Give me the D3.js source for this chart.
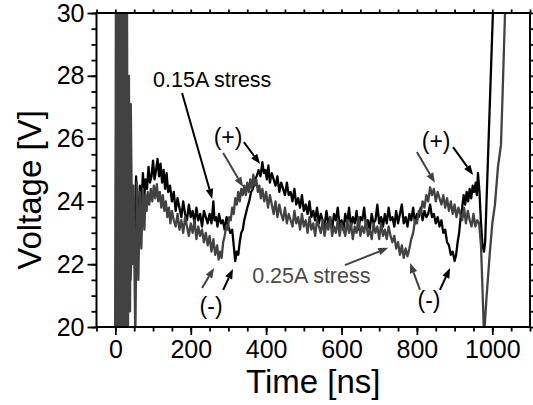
<!DOCTYPE html>
<html><head><meta charset="utf-8">
<script src="https://cdn.jsdelivr.net/npm/d3@7"></script>
<style>
html,body{margin:0;padding:0;background:#fff;}
svg text{font-family:"Liberation Sans",Arial,sans-serif;}
</style></head>
<body>
<svg id="chart" width="533" height="405"></svg>
<script>
// ---- data ----
const xMajorTicks = [0, 200, 400, 600, 800, 1000];
const yMajorTicks = [20, 22, 24, 26, 28, 30];
const xTitle = "Time [ns]";
const yTitle = "Voltage [V]";

// 0.15A stress trace (black) : [time ns, voltage V]
const stress015 = [
[0,19.5],[2,26],[4,31],[7,31],[9,19],[11,31],[13,19],[15,31],[18,31],[21,19],[24,31],[26,19.5],[29,29],[32,20.5],[35,26],[40,21.5],[45,24.5],[50,22.5],[55,24.8],[60,23.2],[65,24.5],[69,23.8],[73,24.9],
[77,24.2],[80,24.7],[84,24.4],[88,25.1],[92,24.6],[96,24.8],[100,25.3],[104,24.7],[108,25.0],[112,25.35],[116,24.8],[120,25.2],[124,24.6],[128,25.0],[132,24.4],[136,24.9],[140,24.3],[145,24.5],[150,24.0],[155,24.3],[160,23.7],[165,24.1],[170,23.8],[175,23.5],[180,24.0],[185,23.6],[190,23.4],[195,23.9],[200,23.5],[205,23.7],[210,23.3],[215,23.8],[220,23.4],[225,23.6],[230,23.2],[235,23.7],[240,23.5],[245,23.3],[250,23.6],[255,23.3],[260,24.0],[263,23.4],[267,23.5],[271,23.2],[275,23.6],[280,23.3],[285,23.4],[290,23.1],[295,23.5],[300,23.2],[305,23.0],[310,23.1],[314,22.6],[318,22.1],[322,22.4],[326,22.3],[330,22.7],[334,23.0],[338,23.1],[342,23.4],[346,23.6],[350,23.8],[355,24.0],[360,24.3],[365,24.4],[370,24.7],[375,24.8],[380,25.0],[385,24.8],[390,25.25],[394,24.9],[398,25.0],[402,24.7],[406,25.15],[410,24.6],[415,24.9],[420,24.7],[425,24.5],[430,24.8],[435,24.3],[440,24.6],[445,24.4],[450,24.2],[455,24.6],[460,24.2],[465,24.3],[470,24.0],[475,24.4],[480,23.9],[485,24.1],[490,23.8],[495,24.2],[500,23.7],[505,23.9],[510,23.6],[515,24.0],[520,23.5],[525,23.7],[530,23.4],[535,23.8],[540,23.3],[545,23.6],[550,23.4],[555,23.2],[560,23.7],[565,23.3],[570,23.5],[575,23.1],[580,23.6],[585,23.4],[590,23.8],[595,23.2],[600,23.4],[605,23.1],[610,23.6],[615,23.3],[620,23.8],[625,23.2],[630,23.5],[635,23.3],[640,23.7],[645,23.1],[650,23.5],[655,23.4],[660,23.8],[665,23.2],[670,23.4],[675,23.1],[680,23.6],[685,23.3],[690,23.4],[695,23.9],[700,23.3],[705,23.5],[710,23.2],[715,23.6],[720,23.3],[725,23.8],[730,23.4],[735,23.5],[740,23.2],[745,23.7],[750,23.3],[755,23.6],[760,23.9],[765,23.3],[770,23.5],[775,23.2],[780,23.6],[785,23.4],[790,23.8],[795,23.3],[800,23.6],[805,23.5],[810,23.8],[815,23.4],[820,23.7],[825,23.5],[830,23.6],[835,23.9],[840,23.5],[845,23.6],[850,23.3],[855,23.5],[860,23.2],[865,23.4],[870,23.0],[875,23.1],[880,22.7],[885,22.6],[890,22.3],[895,22.4],[900,22.1],[904,22.3],[908,22.7],[912,23.0],[916,23.5],[920,23.8],[924,24.2],[928,23.9],[932,24.3],[936,24.0],[940,24.4],[944,24.1],[948,24.5],[952,24.3],[956,24.6],[959,24.2],[962,24.9],[966,24.3],[970,23.3],[974,22.6],[978,22.4],[981,22.7],[1003,30.5]
];

// 0.25A stress trace (gray) : [time ns, voltage V]
const stress025 = [
[0,19.5],[1.5,31],[3.5,19],[5.5,31],[7.5,19],[9.5,31],[11.5,19],[13.5,31],[15.5,19],[17.5,31],[19.5,19],[21.5,31],[23.5,19],[26,31],[28.5,19],[31,30],[33.5,19.5],[36,28],[39,20.5],[41,27.1],[45,22],[48,24.5],[53,19.6],[57,24.6],[61,21.5],[65,24.3],[69,22.5],[73,24.4],[77,23.1],[80,24.2],
[83,23.7],[86,24.3],[90,23.9],[94,24.4],[98,24.0],[102,24.5],[106,24.1],[110,24.55],[114,24.0],[118,24.3],[122,23.8],[126,24.2],[130,23.7],[134,24.0],[138,23.5],[142,23.8],[146,23.3],[150,23.7],[155,23.4],[160,23.2],[165,23.6],[170,23.1],[175,23.4],[180,23.0],[185,23.5],[190,23.2],[195,22.9],[200,23.3],[205,23.0],[210,23.4],[215,22.8],[220,23.2],[225,22.9],[230,23.1],[235,22.7],[240,23.0],[245,22.6],[250,22.9],[255,22.4],[260,22.8],[265,22.3],[270,22.6],[274,22.15],[278,22.4],[282,22.2],[286,22.7],[290,22.9],[294,23.2],[298,23.1],[302,23.5],[306,23.4],[310,23.8],[314,23.6],[318,24.1],[322,23.9],[326,24.3],[330,24.0],[334,24.4],[338,24.2],[342,24.5],[346,24.2],[350,24.6],[354,24.3],[358,24.7],[362,24.4],[366,24.85],[370,24.5],[374,24.7],[378,24.3],[382,24.5],[386,24.1],[390,24.4],[395,24.0],[400,24.3],[405,23.8],[410,24.2],[415,23.9],[420,23.6],[425,24.0],[430,23.5],[435,23.9],[440,23.6],[445,23.4],[450,23.8],[455,23.3],[460,23.6],[465,23.4],[470,23.2],[475,23.7],[480,23.3],[485,23.5],[490,23.1],[495,23.6],[500,23.2],[505,23.4],[510,23.0],[515,23.5],[520,23.1],[525,23.3],[530,22.9],[535,23.4],[540,23.2],[545,23.0],[550,23.4],[555,22.9],[560,23.3],[565,23.1],[570,23.5],[575,22.9],[580,23.2],[585,23.0],[590,23.4],[595,22.9],[600,23.3],[605,23.1],[610,22.9],[615,23.4],[620,23.0],[625,23.3],[630,22.8],[635,23.2],[640,23.0],[645,23.5],[650,22.9],[655,23.2],[660,23.0],[665,23.4],[670,22.9],[675,23.1],[680,22.8],[685,23.3],[690,23.0],[695,23.2],[700,22.8],[705,23.3],[710,22.9],[715,23.1],[720,22.8],[725,23.2],[730,22.9],[735,22.7],[740,22.9],[745,22.5],[750,22.7],[755,22.3],[760,22.6],[765,22.2],[770,22.5],[775,22.25],[780,22.5],[785,22.8],[790,23.0],[795,23.4],[800,23.3],[805,23.7],[810,23.6],[815,24.0],[820,23.8],[825,24.2],[830,24.0],[835,24.45],[840,24.2],[845,24.4],[850,24.0],[855,24.3],[860,24.1],[865,23.9],[870,24.2],[875,23.8],[880,24.1],[885,23.7],[890,24.0],[895,23.6],[900,23.9],[905,23.5],[910,23.8],[915,23.6],[920,23.4],[925,23.8],[930,23.3],[935,23.7],[940,23.4],[945,23.2],[950,23.6],[955,23.2],[960,23.4],[965,23.3],[970,22.6],[974,21.2],[978,19.7],[985,21.0],[993,22.3],[1000,23.3],[1007,23.9],[1015,25.1],[1023,25.8],[1027,27.3],[1035,30.5]
];

// annotation labels [text, time, voltage, anchor, colour key]
const labels = [
  ["0.15A stress", 100, 27.64, "start", "k"],
  ["(+)", 299, 25.80, "middle", "k"],
  ["(-)", 254, 20.41, "middle", "k"],
  ["0.25A stress", 363, 21.40, "start", "g"],
  ["(+)", 851, 25.67, "middle", "k"],
  ["(-)", 832, 20.60, "middle", "k"]
];
// annotation arrows [t0, v0, t1, v1, colour key]
const arrows = [
  [177, 27.45, 257, 24.08, "k"],
  [341, 25.89, 384, 25.19, "k"],
  [286, 25.54, 339, 24.46, "g"],
  [230, 21.24, 262, 21.88, "g"],
  [286, 21.18, 312, 21.85, "k"],
  [609, 21.97, 724, 22.52, "g"],
  [800, 25.57, 848, 24.59, "g"],
  [896, 25.73, 949, 24.84, "k"],
  [808, 21.18, 782, 22.04, "g"],
  [861, 21.18, 888, 21.88, "k"]
];

// ---- drawing ----
const L = 96.5, R = 530, T = 13, B = 327;
const colors = {k: "#000000", g: "#424242"};
const textColors = {k: "#000000", g: "#4a4a4a"};

const x = d3.scaleLinear().domain([-50, 1100]).range([L, R]);
const y = d3.scaleLinear().domain([20, 30]).range([B, T]);

const svg = d3.select("#chart");

svg.append("defs").append("clipPath").attr("id", "clip")
  .append("rect").attr("x", L).attr("y", T).attr("width", R - L).attr("height", B - T);

const line = d3.line().x(d => x(d[0])).y(d => y(d[1]));
const traces = svg.append("g").attr("clip-path", "url(#clip)");
traces.append("path").datum(stress015).attr("d", line)
  .attr("fill", "none").attr("stroke", colors.k).attr("stroke-width", 2.3).attr("stroke-linejoin", "round");
traces.append("path").datum(stress025).attr("d", line)
  .attr("fill", "none").attr("stroke", colors.g).attr("stroke-width", 2.3).attr("stroke-linejoin", "round");

// axes
const xMinor = d3.range(-50, 1100.1, 50);
const yMinor = d3.range(20, 30.01, 0.5);

function styleAxis(g) {
  g.select(".domain").remove();
  g.selectAll(".tick line").attr("stroke", "#000").attr("stroke-width", 1.8);
}
svg.append("g").attr("transform", `translate(0,${B})`)
  .call(d3.axisBottom(x).tickValues(xMinor).tickSize(4.5).tickFormat("")).call(styleAxis);
const xa = svg.append("g").attr("transform", `translate(0,${B})`)
  .call(d3.axisBottom(x).tickValues(xMajorTicks).tickSize(8).tickPadding(4).tickFormat(d3.format("d"))).call(styleAxis);
xa.selectAll(".tick text").attr("font-size", 25).attr("fill", "#000")
  .attr("font-family", '"Liberation Sans",Arial,sans-serif').attr("dy", null).attr("y", 31);

svg.append("g").attr("transform", `translate(${L},0)`)
  .call(d3.axisLeft(y).tickValues(yMinor).tickSize(5).tickFormat("")).call(styleAxis);
const ya = svg.append("g").attr("transform", `translate(${L},0)`)
  .call(d3.axisLeft(y).tickValues(yMajorTicks).tickSize(9).tickPadding(3).tickFormat(d3.format("d"))).call(styleAxis);
ya.selectAll(".tick text").attr("font-size", 25).attr("fill", "#000")
  .attr("font-family", '"Liberation Sans",Arial,sans-serif');

svg.append("g").attr("transform", `translate(0,${T})`)
  .call(d3.axisTop(x).tickValues(xMinor).tickSize(3.5).tickFormat("")).call(styleAxis);
svg.append("g").attr("transform", `translate(${R},0)`)
  .call(d3.axisRight(y).tickValues(yMinor).tickSize(3.5).tickFormat("")).call(styleAxis);

svg.append("rect").attr("x", L).attr("y", T).attr("width", R - L).attr("height", B - T)
  .attr("fill", "none").attr("stroke", "#000").attr("stroke-width", 2);

// titles
svg.append("text").attr("x", (L + R) / 2).attr("y", 393).attr("text-anchor", "middle")
  .attr("font-size", 33).attr("fill", "#000").text(xTitle);
svg.append("text").attr("transform", `translate(41,190) rotate(-90)`).attr("text-anchor", "middle")
  .attr("font-size", 33).attr("fill", "#000").text(yTitle);

// annotations
const ann = svg.append("g");
labels.forEach(([txt, t, v, anchor, c]) => {
  ann.append("text").attr("x", x(t)).attr("y", y(v)).attr("text-anchor", anchor)
    .attr("font-size", txt.length > 3 ? 21.5 : 23).attr("fill", textColors[c]).text(txt);
});
arrows.forEach(([t0, v0, t1, v1, c]) => {
  const x0 = x(t0), y0 = y(v0), x1 = x(t1), y1 = y(v1);
  const a = Math.atan2(y1 - y0, x1 - x0);
  const len = 10, hw = 3.8;
  const bx = x1 - len * Math.cos(a), by = y1 - len * Math.sin(a);
  ann.append("line").attr("x1", x0).attr("y1", y0).attr("x2", bx).attr("y2", by)
    .attr("stroke", colors[c]).attr("stroke-width", 2);
  const pts = [[x1, y1],
    [bx + hw * Math.sin(a), by - hw * Math.cos(a)],
    [bx - hw * Math.sin(a), by + hw * Math.cos(a)]];
  ann.append("polygon").attr("points", pts.map(p => p.join(",")).join(" ")).attr("fill", colors[c]);
});
</script>
</body></html>
